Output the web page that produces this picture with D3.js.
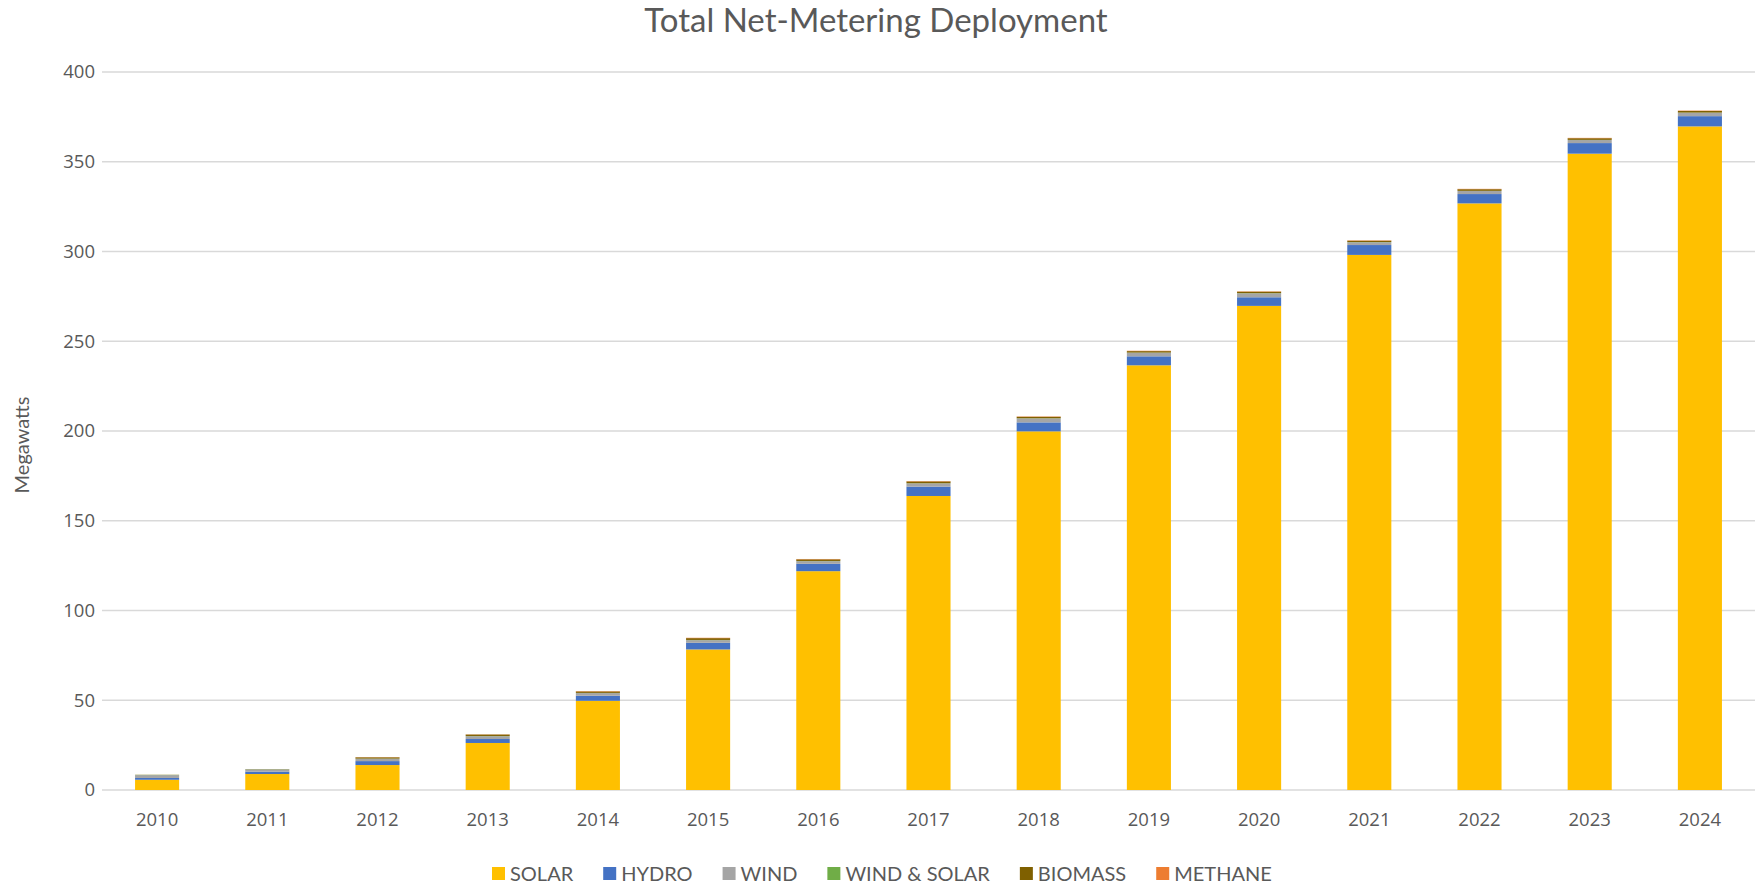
<!DOCTYPE html>
<html>
<head>
<meta charset="utf-8">
<script src="https://cdn.jsdelivr.net/npm/d3@7"></script>
<style>
  body { margin: 0; background: #fff; }
  svg { display: block; }
</style>
</head>
<body>
<div id="chart"></div>
<script>

// Data (megawatts)
var years = ["2010", "2011", "2012", "2013", "2014", "2015", "2016", "2017",
             "2018", "2019", "2020", "2021", "2022", "2023", "2024"];
var solar = [5.7, 8.9, 13.9, 26.2, 49.7, 78.3, 121.9, 163.8, 199.8, 236.6, 269.7, 298.1, 326.8, 354.5, 369.7];
var hydro = [1.0, 1.3, 2.2, 2.2, 2.8, 3.7, 4.1, 5.2, 5.0, 5.0, 4.8, 5.5, 5.2, 5.9, 5.7];
var wind = [1.6, 1.3, 1.3, 1.6, 1.5, 1.5, 1.5, 1.8, 2.2, 2.0, 2.2, 1.6, 1.7, 1.7, 1.9];
var windSolar = [0.1, 0.1, 0.1, 0.1, 0.1, 0.1, 0.1, 0.1, 0.1, 0.1, 0.1, 0.1, 0.1, 0.1, 0.1];
var biomass = [0.1, 0.1, 0.7, 0.8, 0.8, 1.0, 0.9, 1.0, 0.8, 0.8, 0.8, 0.7, 0.9, 0.9, 0.9];
var methane = [0, 0, 0.1, 0.1, 0.2, 0.2, 0.2, 0.2, 0.2, 0.2, 0.2, 0.2, 0.2, 0.2, 0.2];

var seriesNames = ["SOLAR", "HYDRO", "WIND", "WIND & SOLAR", "BIOMASS", "METHANE"];
var seriesValues = [solar, hydro, wind, windSolar, biomass, methane];
var seriesColors = ["#ffc000", "#4472c4", "#a5a5a5", "#70ad47", "#7f6000", "#ed7d31"];
var yTicks = [0, 50, 100, 150, 200, 250, 300, 350, 400];

var width = 1755, height = 886;
var margin = {top: 72, right: 0, bottom: 96, left: 102};

var svg = d3.select("#chart").append("svg")
    .attr("width", width)
    .attr("height", height);

// Build rows for the stack layout
var rows = years.map(function(y, i) {
    var row = {year: y};
    for (var s = 0; s < seriesNames.length; s++) {
        row[seriesNames[s]] = seriesValues[s][i];
    }
    return row;
});
var stacked = d3.stack().keys(seriesNames)(rows);

var x = d3.scaleBand()
    .domain(years)
    .range([margin.left, width - margin.right])
    .paddingInner(0.6)
    .paddingOuter(0.3);

var y = d3.scaleLinear()
    .domain([0, 400])
    .range([height - margin.bottom, margin.top]);

// Gridlines
svg.append("g")
    .selectAll("line")
    .data(yTicks)
    .join("line")
    .attr("x1", margin.left)
    .attr("x2", width - margin.right)
    .attr("y1", function(d) { return y(d); })
    .attr("y2", function(d) { return y(d); })
    .attr("stroke", "#d9d9d9")
    .attr("stroke-width", 1.5);

// Y axis labels
var yAxis = d3.axisLeft(y).tickValues(yTicks).tickSize(0).tickPadding(0);
svg.append("g")
    .attr("transform", "translate(" + (margin.left - 7) + ",0)")
    .call(yAxis)
    .call(function(g) { g.select(".domain").remove(); })
    .selectAll("text")
    .attr("font-family", "'Open Sans', sans-serif")
    .attr("font-size", 18.5)
    .attr("fill", "#595959");

// X axis labels
var xAxis = d3.axisBottom(x).tickSize(0).tickPadding(0);
svg.append("g")
    .attr("transform", "translate(0," + (height - margin.bottom + 23) + ")")
    .call(xAxis)
    .call(function(g) { g.select(".domain").remove(); })
    .selectAll("text")
    .attr("font-family", "'Open Sans', sans-serif")
    .attr("font-size", 18.5)
    .attr("fill", "#595959");

// Bars
svg.append("g")
    .selectAll("g")
    .data(stacked)
    .join("g")
    .attr("fill", function(d, i) { return seriesColors[i]; })
    .selectAll("rect")
    .data(function(d) { return d; })
    .join("rect")
    .attr("x", function(d) { return x(d.data.year); })
    .attr("width", x.bandwidth())
    .attr("y", function(d) { return y(d[1]); })
    .attr("height", function(d) { return Math.max(0, y(d[0]) - y(d[1])); });

// Title
svg.append("text")
    .attr("x", 876)
    .attr("y", 32)
    .attr("text-anchor", "middle")
    .attr("font-family", "Lato, sans-serif")
    .attr("font-size", 33)
    .attr("fill", "#595959")
    .text("Total Net-Metering Deployment");

// Y axis title
svg.append("text")
    .attr("transform", "translate(29,445) rotate(-90)")
    .attr("text-anchor", "middle")
    .attr("font-family", "Lato, sans-serif")
    .attr("font-size", 20)
    .attr("fill", "#595959")
    .text("Megawatts");

// Legend
var legend = svg.append("g").attr("transform", "translate(0,874)");
var lx = 492;
seriesNames.forEach(function(name, i) {
    var item = legend.append("g").attr("transform", "translate(" + lx + ",0)");
    item.append("rect")
        .attr("x", 0)
        .attr("y", -7)
        .attr("width", 13)
        .attr("height", 13)
        .attr("fill", seriesColors[i]);
    var t = item.append("text")
        .attr("x", 18)
        .attr("y", 0)
        .attr("dy", "0.35em")
        .attr("font-family", "Lato, sans-serif")
        .attr("font-size", 20)
        .attr("fill", "#595959")
        .text(name);
    lx += 18 + t.node().getComputedTextLength() + 30;
});

</script>
</body>
</html>
